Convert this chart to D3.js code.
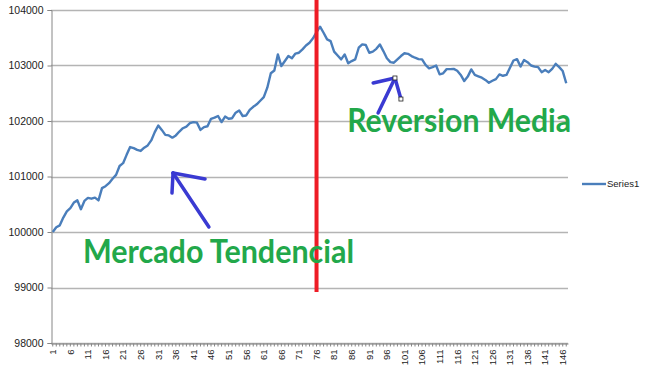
<!DOCTYPE html>
<html>
<head>
<meta charset="utf-8">
<script src="https://cdn.jsdelivr.net/npm/d3@7"></script>
<style>
  body { margin: 0; background: #fff; }
  svg { display: block; }
</style>
</head>
<body>
<div id="chart"></div>
<script>
/* Data */
/* ==== */

var categories = d3.range(1, 148);   // 1..147

var series1 = [
  100000, 100085, 100120, 100260, 100370, 100430, 100530, 100570, 100410, 100560,
  100615, 100600, 100620, 100570, 100790, 100825, 100880, 100960, 101030, 101190,
  101240, 101390, 101530, 101510, 101480, 101460, 101520, 101560, 101650, 101800,
  101920, 101840, 101750, 101740, 101700, 101740, 101810, 101870, 101900, 101960,
  101980, 101970, 101840, 101890, 101905, 102040, 102060, 102090, 101980, 102080,
  102040, 102050, 102150, 102190, 102090, 102100, 102200, 102255, 102300, 102365,
  102430, 102600, 102860, 102910, 103200, 102990, 103080, 103170, 103130, 103215,
  103230, 103290, 103360, 103410, 103490, 103600, 103700, 103590, 103470, 103440,
  103250, 103180, 103110, 103200, 103040, 103080, 103110, 103320, 103380, 103370,
  103230, 103250, 103300, 103380, 103260, 103130, 103060, 103050, 103110, 103170,
  103220, 103210, 103170, 103140, 103115, 103110, 103010, 102950, 102970, 103000,
  102840, 102860, 102935, 102935, 102940, 102905, 102830, 102720, 102800, 102930,
  102830, 102805, 102780, 102740, 102690, 102725, 102755, 102840, 102815, 102830,
  102960, 103090, 103115, 102980, 103100, 103060, 103000, 102980, 102970, 102880,
  102920, 102880, 102940, 103030, 102970, 102900, 102680
];

var yTicks = [98000, 99000, 100000, 101000, 102000, 103000, 104000];
var xTickLabels = categories.filter(function(c) { return (c - 1) % 5 === 0; });

// annotations, in (category, value) terms
var divider = { cat: 76, top: 104180, bottom: 98920 };
var arrowTrend = [
  [[45.4, 100090], [35.2, 101063]],
  [[35.2, 101063], [44.3, 100955]],
  [[35.2, 101063], [34.9, 100702]]
];
var arrowRevert = [
  [[93.5, 102144], [98.3, 102775]],
  [[92.1, 102685], [98.3, 102775]],
  [[98.3, 102775], [100.0, 102396]]
];
var revertHandles = [[98.3, 102775], [100.0, 102396]];
var labels = [
  { text: 'Mercado Tendencial', cat: 9.6, value: 99441, width: 271 },
  { text: 'Reversion Media', cat: 84.7, value: 101802, width: 224 }
];

/* Setup */
/* ===== */

var width = 650,
    height = 376,
    plotLeft = 51,
    plotRight = 568,
    plotTop = 10,
    plotBottom = 343;

var svg = d3.select('#chart').append('svg')
    .attr('width', width)
    .attr('height', height);

var x = d3.scaleBand()
    .domain(categories)
    .range([plotLeft, plotRight]);

var xc = d3.scaleLinear()     // fractional category positions
    .domain([0.5, categories.length + 0.5])
    .range([plotLeft, plotRight]);

var y = d3.scaleLinear()
    .domain([98000, 104000])
    .range([plotBottom, plotTop]);

// gridlines
svg.append('g')
  .selectAll('line')
  .data(yTicks)
  .enter().append('line')
    .attr('x1', plotLeft)
    .attr('x2', plotRight)
    .attr('y1', function(d) { return Math.round(y(d)) + 0.5; })
    .attr('y2', function(d) { return Math.round(y(d)) + 0.5; })
    .attr('stroke', '#b4b4b4')
    .attr('stroke-width', 1.3);

// y axis
var yAxis = svg.append('g')
    .attr('transform', 'translate(' + (plotLeft + 0.5) + ',0)')
    .call(d3.axisLeft(y).tickValues(yTicks).tickSize(4).tickPadding(4)
      .tickFormat(d3.format('d')));
yAxis.select('.domain').attr('stroke', '#868686');
yAxis.selectAll('.tick line').attr('stroke', '#868686');
yAxis.selectAll('.tick text')
    .attr('font-family', 'Liberation Sans, Arial, sans-serif')
    .attr('font-size', 10.5)
    .attr('fill', '#222');

// x axis
var xAxis = svg.append('g')
    .attr('transform', 'translate(0,' + (plotBottom + 0.5) + ')')
    .call(d3.axisBottom(x).tickSize(3).tickSizeOuter(0)
      .tickFormat(function(d) { return xTickLabels.indexOf(d) >= 0 ? d : ''; }));
xAxis.select('.domain').attr('stroke', '#868686');
xAxis.selectAll('.tick line').attr('stroke', '#868686');
xAxis.selectAll('.tick text')
    .attr('font-family', 'Liberation Sans, Arial, sans-serif')
    .attr('font-size', 9.5)
    .attr('fill', '#222')
    .attr('text-anchor', 'end')
    .attr('dy', '0.35em')
    .attr('transform', 'translate(0,3) rotate(-90)')
    .attr('x', -3)
    .attr('y', 0);

// series line
var line = d3.line()
    .x(function(d, i) { return x(categories[i]) + x.bandwidth() / 2; })
    .y(function(d) { return y(d); });

svg.append('path')
    .datum(series1)
    .attr('d', line)
    .attr('fill', 'none')
    .attr('stroke', '#4a7ebb')
    .attr('stroke-width', 2.4)
    .attr('stroke-linejoin', 'round');

/* Annotations */
/* =========== */

svg.append('line')
    .attr('x1', x(divider.cat) + x.bandwidth() / 2)
    .attr('x2', x(divider.cat) + x.bandwidth() / 2)
    .attr('y1', y(divider.top))
    .attr('y2', y(divider.bottom))
    .attr('stroke', '#ee1c25')
    .attr('stroke-width', 4);

svg.append('g')
  .selectAll('line')
  .data(arrowTrend.concat(arrowRevert))
  .enter().append('line')
    .attr('x1', function(d) { return xc(d[0][0]); })
    .attr('y1', function(d) { return y(d[0][1]); })
    .attr('x2', function(d) { return xc(d[1][0]); })
    .attr('y2', function(d) { return y(d[1][1]); })
    .attr('stroke', '#3a3ad2')
    .attr('stroke-width', 3.5)
    .attr('stroke-linecap', 'round');

svg.append('g')
  .selectAll('rect')
  .data(revertHandles)
  .enter().append('rect')
    .attr('x', function(d) { return xc(d[0]) - 2; })
    .attr('y', function(d) { return y(d[1]) - 2; })
    .attr('width', 4)
    .attr('height', 4)
    .attr('fill', '#fff')
    .attr('stroke', '#222')
    .attr('stroke-width', 0.8);

svg.append('g')
  .selectAll('text')
  .data(labels)
  .enter().append('text')
    .attr('x', function(d) { return xc(d.cat); })
    .attr('y', function(d) { return y(d.value); })
    .attr('textLength', function(d) { return d.width; })
    .attr('lengthAdjust', 'spacingAndGlyphs')
    .attr('font-family', 'Lato, Open Sans, sans-serif')
    .attr('font-weight', 700)
    .attr('font-size', 33)
    .attr('fill', '#22a84a')
    .text(function(d) { return d.text; });

/* Legend */
/* ====== */

var legend = svg.append('g')
    .attr('transform', 'translate(582,184)');

legend.append('line')
    .attr('x1', 0)
    .attr('x2', 24)
    .attr('stroke', '#4a7ebb')
    .attr('stroke-width', 2.4);

legend.append('text')
    .attr('x', 25)
    .attr('dy', '0.35em')
    .attr('font-family', 'Liberation Sans, Arial, sans-serif')
    .attr('font-size', 9.5)
    .attr('fill', '#222')
    .text('Series1');
</script>
</body>
</html>
